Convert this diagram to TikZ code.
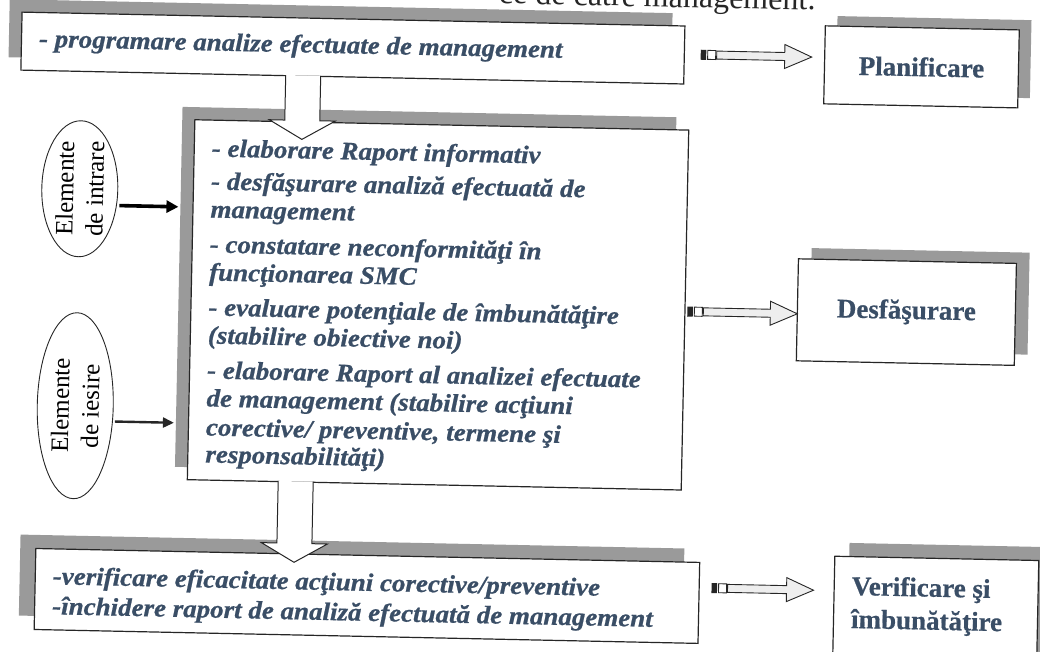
\documentclass[tikz,border=0pt]{standalone}
\usepackage{fontspec}
\setmainfont{Liberation Serif}
\newfontfamily\biFont[FakeStretch=1.07, FakeBold=0.8]{Liberation Serif}
\newfontfamily\labelFont[FakeBold=0.6]{Liberation Serif}
\usetikzlibrary{arrows.meta,shapes.geometric}
\definecolor{ink}{HTML}{3A4E66}
\definecolor{shadegray}{HTML}{9A9A9A}
\definecolor{edge}{HTML}{262626}
\definecolor{arrowfill}{HTML}{EEEEEE}

\begin{document}
\begin{tikzpicture}[x=1pt, y=-1pt,
  panel/.style={draw=edge, line width=1.2pt, fill=white, inner sep=0pt},
  shadowfill/.style={fill=shadegray, draw=none},
  itline/.style={anchor=base west, inner sep=0pt, text=ink,
    font=\biFont\bfseries\itshape\fontsize{25.2}{28}\selectfont},
  boldlabel/.style={text=ink, font=\labelFont\fontsize{27}{33}\selectfont\bfseries},
  oval/.style={ellipse, draw=edge, line width=0.9pt, fill=white, rotate=90,
    align=center, inner sep=0pt, font=\fontsize{25}{30}\selectfont},
  pics/rblock/.style={code={
    \fill[edge] (0,-5) rectangle (5.5,5);
    \draw[edge, line width=0.9pt, fill=white] (7,-4.5) rectangle (15,4.5);
    \draw[edge, line width=0.9pt, fill=arrowfill]
      (16,-4) -- ({#1-27},-4) -- ({#1-27},-12) -- (#1,0) -- ({#1-27},12)
      -- ({#1-27},4) -- (16,4) -- cycle;
  }},
  pics/dblock/.style={code={
    \filldraw[draw=edge, line width=1pt, fill=white]
      (-17.5,0) -- (-17.5,{#1-19}) -- (-33,{#1-19}) -- (0,#1)
      -- (33,{#1-19}) -- (17.5,{#1-19}) -- (17.5,0);
  }}
]
\fill[white] (0,0) rectangle (1040,652);
\useasboundingbox (0,0) rectangle (1040,652);

\begin{scope}[transform canvas={rotate around={-1.2:(520,326)}}]
  % caption line above the chart
  \node[anchor=base west, inner sep=0pt, text=edge, font=\fontsize{32}{36}\selectfont]
    (caption) at (492,4) {ce de către management:};

  % shadows
  \fill[shadowfill] (3,10) rectangle (666,68);
  \fill[shadowfill] (178,114) rectangle (672,474);
  \fill[shadowfill] (25,545) rectangle (689,626);
  \fill[shadowfill] (831,9.5) rectangle (1025,87.5);
  \fill[shadowfill] (810,242) rectangle (1028,344);
  \fill[shadowfill] (854,536) rectangle (1058,667);

  % boxes
  \node[panel, anchor=north west, minimum width=663, minimum height=58] (prog) at (15,22) {};
  \node[panel, anchor=north west, minimum width=494, minimum height=360] (main) at (190,126) {};
  \node[panel, anchor=north west, minimum width=664, minimum height=81] (verif) at (40,558) {};
  \node[panel, boldlabel, minimum width=194, minimum height=78] (plan) at (916,58.5) {Planificare};
  \node[panel, boldlabel, minimum width=218, minimum height=102] (desf) at (906,304) {Desfăşurare};
  \node[panel, anchor=north west, minimum width=204, minimum height=131] (impr) at (839,549) {};

  % texts
  \node[itline] (t0) at (33,57) {- programare analize efectuate de management};

  \node[itline] (m1) at (208,163) {- elaborare Raport informativ};
  \node[itline] (m2) at (208,196) {- desfăşurare analiză efectuată de};
  \node[itline] (m3) at (208,224) {management};
  \node[itline] (m4) at (208,259) {- constatare neconformităţi în};
  \node[itline] (m5) at (208,287) {funcţionarea SMC};
  \node[itline] (m6) at (208,322) {- evaluare potenţiale de îmbunătăţire};
  \node[itline] (m7) at (208,350) {(stabilire obiective noi)};
  \node[itline] (m8) at (208,385) {- elaborare Raport al analizei efectuate};
  \node[itline] (m9) at (208,413) {de management (stabilire acţiuni};
  \node[itline] (m10) at (208,442) {corective/ preventive, termene şi};
  \node[itline] (m11) at (208,469) {responsabilităţi)};

  \node[itline] (b1) at (58,594) {-verificare eficacitate acţiuni corective/preventive};
  \node[itline] (b2) at (58,624) {-închidere raport de analiză efectuată de management};

  \node[boldlabel, anchor=base west, inner sep=0pt] (i1) at (857,588) {Verificare şi};
  \node[boldlabel, anchor=base west, inner sep=0pt] (i2) at (857,621) {îmbunătăţire};

  % input / output ovals
  \node[oval, minimum width=136, minimum height=76] (ein) at (77,198) {Elemente\\de intrare};
  \node[oval, minimum width=186, minimum height=76] (eout) at (77,415) {Elemente\\de iesire};

  \coordinate (inA) at (117,214);
  \coordinate (inB) at (176,214);
  \coordinate (outA) at (117,430);
  \coordinate (outB) at (176,430);
  \draw[line width=3.6pt, draw=black, -{Triangle[length=12pt,width=12pt]}] (inA) -- (inB);
  \draw[line width=2.4pt, draw=edge, -{Triangle[length=11pt,width=10pt]}] (outA) -- (outB);

  % block arrows
  \pic at (298,80) {dblock=64};
  \pic at (299,486) {dblock=81};
  \pic at (695,51) {rblock=111};
  \pic at (687,308) {rblock=110};
  \pic at (717,584) {rblock=102};
\end{scope}
\end{tikzpicture}
\end{document}
